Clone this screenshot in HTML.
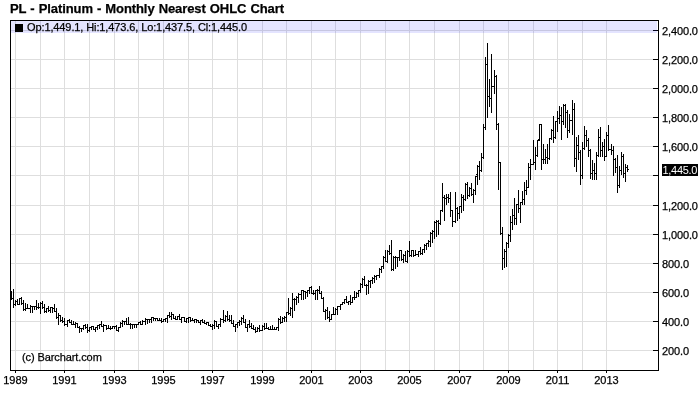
<!DOCTYPE html>
<html><head><meta charset="utf-8"><title>PL - Platinum - Monthly Nearest OHLC Chart</title>
<style>
html,body{margin:0;padding:0;background:#fff;}
body{width:700px;height:411px;position:relative;overflow:hidden;font-family:"Liberation Sans",sans-serif;color:#000;}
#title{position:absolute;left:10px;top:1px;font-size:13px;font-weight:bold;line-height:15px;white-space:nowrap;letter-spacing:-0.09px;word-spacing:0.6px;}
#frame{position:absolute;left:10px;top:20px;width:647px;height:349px;border:1px solid #000;}
#band{position:absolute;left:11px;top:21px;width:646px;height:12px;background:rgba(0,0,255,0.105);}
#sq{position:absolute;left:15px;top:24px;width:8px;height:8px;background:#000;}
#ohlc{position:absolute;left:27px;top:21px;font-size:11px;line-height:13px;white-space:nowrap;letter-spacing:-0.11px;}
#copy{position:absolute;left:22px;top:351px;font-size:11px;line-height:13px;white-space:nowrap;letter-spacing:-0.1px;}
.yl{position:absolute;left:662px;letter-spacing:-0.13px;font-size:11px;line-height:13px;white-space:nowrap;}
.xl{position:absolute;top:374px;width:41px;text-align:center;font-size:11px;line-height:13px;}
#last{position:absolute;left:662px;top:164px;width:36px;height:12px;background:#000;color:#fff;font-size:11px;line-height:12px;white-space:nowrap;letter-spacing:-0.3px;text-indent:0.5px;overflow:hidden;}
svg{position:absolute;left:0;top:0;}
#txt{position:absolute;left:0;top:0;width:700px;height:411px;will-change:transform;-webkit-text-stroke:0.25px #000;}
#last{-webkit-text-stroke:0 transparent;}
</style></head><body>
<div id="txt">
<div id="title">PL - Platinum - Monthly Nearest OHLC Chart</div>
<svg width="700" height="411" viewBox="0 0 700 411" shape-rendering="crispEdges">
<g fill="#dedede">
<rect x="15" y="21" width="1" height="349"/><rect x="40" y="21" width="1" height="349"/><rect x="64" y="21" width="1" height="349"/><rect x="89" y="21" width="1" height="349"/><rect x="114" y="21" width="1" height="349"/><rect x="138" y="21" width="1" height="349"/><rect x="163" y="21" width="1" height="349"/><rect x="188" y="21" width="1" height="349"/><rect x="212" y="21" width="1" height="349"/><rect x="237" y="21" width="1" height="349"/><rect x="262" y="21" width="1" height="349"/><rect x="286" y="21" width="1" height="349"/><rect x="311" y="21" width="1" height="349"/><rect x="335" y="21" width="1" height="349"/><rect x="360" y="21" width="1" height="349"/><rect x="385" y="21" width="1" height="349"/><rect x="409" y="21" width="1" height="349"/><rect x="434" y="21" width="1" height="349"/><rect x="459" y="21" width="1" height="349"/><rect x="483" y="21" width="1" height="349"/><rect x="508" y="21" width="1" height="349"/><rect x="533" y="21" width="1" height="349"/><rect x="557" y="21" width="1" height="349"/><rect x="582" y="21" width="1" height="349"/><rect x="606" y="21" width="1" height="349"/>
<rect x="11" y="350" width="647" height="1"/><rect x="11" y="321" width="647" height="1"/><rect x="11" y="292" width="647" height="1"/><rect x="11" y="263" width="647" height="1"/><rect x="11" y="234" width="647" height="1"/><rect x="11" y="205" width="647" height="1"/><rect x="11" y="175" width="647" height="1"/><rect x="11" y="146" width="647" height="1"/><rect x="11" y="117" width="647" height="1"/><rect x="11" y="88" width="647" height="1"/><rect x="11" y="59" width="647" height="1"/><rect x="11" y="30" width="647" height="1"/>
</g>
<g fill="#000">
<rect x="653" y="350" width="5" height="1"/><rect x="653" y="321" width="5" height="1"/><rect x="653" y="292" width="5" height="1"/><rect x="653" y="263" width="5" height="1"/><rect x="653" y="234" width="5" height="1"/><rect x="653" y="205" width="5" height="1"/><rect x="653" y="175" width="5" height="1"/><rect x="653" y="146" width="5" height="1"/><rect x="653" y="117" width="5" height="1"/><rect x="653" y="88" width="5" height="1"/><rect x="653" y="59" width="5" height="1"/><rect x="653" y="30" width="5" height="1"/>
<rect x="15" y="371" width="1" height="2"/><rect x="64" y="371" width="1" height="2"/><rect x="114" y="371" width="1" height="2"/><rect x="163" y="371" width="1" height="2"/><rect x="212" y="371" width="1" height="2"/><rect x="262" y="371" width="1" height="2"/><rect x="311" y="371" width="1" height="2"/><rect x="360" y="371" width="1" height="2"/><rect x="409" y="371" width="1" height="2"/><rect x="459" y="371" width="1" height="2"/><rect x="508" y="371" width="1" height="2"/><rect x="557" y="371" width="1" height="2"/><rect x="606" y="371" width="1" height="2"/>
</g>
<g fill="#000">
<rect x="11" y="291" width="1" height="9"/>
<rect x="12" y="298" width="1" height="1"/>
<rect x="13" y="289" width="1" height="19"/>
<rect x="12" y="298" width="1" height="1"/>
<rect x="14" y="304" width="1" height="1"/>
<rect x="15" y="300" width="1" height="6"/>
<rect x="14" y="304" width="1" height="1"/>
<rect x="16" y="301" width="1" height="1"/>
<rect x="17" y="299" width="1" height="6"/>
<rect x="16" y="301" width="1" height="1"/>
<rect x="18" y="304" width="1" height="1"/>
<rect x="19" y="298" width="1" height="7"/>
<rect x="18" y="304" width="1" height="1"/>
<rect x="20" y="298" width="1" height="1"/>
<rect x="21" y="297" width="1" height="8"/>
<rect x="20" y="298" width="1" height="1"/>
<rect x="22" y="303" width="1" height="1"/>
<rect x="23" y="300" width="1" height="11"/>
<rect x="22" y="303" width="1" height="1"/>
<rect x="24" y="309" width="1" height="1"/>
<rect x="25" y="303" width="1" height="8"/>
<rect x="24" y="309" width="1" height="1"/>
<rect x="26" y="308" width="1" height="1"/>
<rect x="27" y="304" width="1" height="5"/>
<rect x="26" y="308" width="1" height="1"/>
<rect x="28" y="308" width="1" height="1"/>
<rect x="30" y="305" width="1" height="8"/>
<rect x="29" y="308" width="1" height="1"/>
<rect x="31" y="306" width="1" height="1"/>
<rect x="32" y="306" width="1" height="7"/>
<rect x="31" y="306" width="1" height="1"/>
<rect x="33" y="306" width="1" height="1"/>
<rect x="34" y="306" width="1" height="4"/>
<rect x="33" y="306" width="1" height="1"/>
<rect x="35" y="306" width="1" height="1"/>
<rect x="36" y="300" width="1" height="10"/>
<rect x="35" y="306" width="1" height="1"/>
<rect x="37" y="307" width="1" height="1"/>
<rect x="38" y="303" width="1" height="6"/>
<rect x="37" y="307" width="1" height="1"/>
<rect x="39" y="307" width="1" height="1"/>
<rect x="40" y="302" width="1" height="12"/>
<rect x="39" y="307" width="1" height="1"/>
<rect x="41" y="303" width="1" height="1"/>
<rect x="42" y="301" width="1" height="8"/>
<rect x="41" y="303" width="1" height="1"/>
<rect x="43" y="307" width="1" height="1"/>
<rect x="44" y="304" width="1" height="9"/>
<rect x="43" y="307" width="1" height="1"/>
<rect x="45" y="311" width="1" height="1"/>
<rect x="46" y="308" width="1" height="5"/>
<rect x="45" y="311" width="1" height="1"/>
<rect x="47" y="308" width="1" height="1"/>
<rect x="48" y="306" width="1" height="6"/>
<rect x="47" y="308" width="1" height="1"/>
<rect x="49" y="310" width="1" height="1"/>
<rect x="50" y="307" width="1" height="6"/>
<rect x="49" y="310" width="1" height="1"/>
<rect x="51" y="307" width="1" height="1"/>
<rect x="52" y="307" width="1" height="6"/>
<rect x="51" y="307" width="1" height="1"/>
<rect x="53" y="308" width="1" height="1"/>
<rect x="54" y="304" width="1" height="8"/>
<rect x="53" y="308" width="1" height="1"/>
<rect x="55" y="311" width="1" height="1"/>
<rect x="56" y="308" width="1" height="11"/>
<rect x="55" y="311" width="1" height="1"/>
<rect x="57" y="317" width="1" height="1"/>
<rect x="58" y="313" width="1" height="12"/>
<rect x="57" y="317" width="1" height="1"/>
<rect x="59" y="315" width="1" height="1"/>
<rect x="60" y="315" width="1" height="7"/>
<rect x="59" y="315" width="1" height="1"/>
<rect x="61" y="320" width="1" height="1"/>
<rect x="62" y="317" width="1" height="6"/>
<rect x="61" y="320" width="1" height="1"/>
<rect x="63" y="321" width="1" height="1"/>
<rect x="64" y="318" width="1" height="8"/>
<rect x="63" y="321" width="1" height="1"/>
<rect x="65" y="324" width="1" height="1"/>
<rect x="67" y="320" width="1" height="7"/>
<rect x="66" y="324" width="1" height="1"/>
<rect x="68" y="320" width="1" height="1"/>
<rect x="69" y="319" width="1" height="4"/>
<rect x="68" y="320" width="1" height="1"/>
<rect x="70" y="322" width="1" height="1"/>
<rect x="71" y="320" width="1" height="5"/>
<rect x="70" y="322" width="1" height="1"/>
<rect x="72" y="324" width="1" height="1"/>
<rect x="73" y="321" width="1" height="4"/>
<rect x="72" y="324" width="1" height="1"/>
<rect x="74" y="324" width="1" height="1"/>
<rect x="75" y="322" width="1" height="6"/>
<rect x="74" y="324" width="1" height="1"/>
<rect x="76" y="323" width="1" height="1"/>
<rect x="77" y="323" width="1" height="5"/>
<rect x="76" y="323" width="1" height="1"/>
<rect x="78" y="327" width="1" height="1"/>
<rect x="79" y="326" width="1" height="7"/>
<rect x="78" y="327" width="1" height="1"/>
<rect x="80" y="328" width="1" height="1"/>
<rect x="81" y="328" width="1" height="4"/>
<rect x="80" y="328" width="1" height="1"/>
<rect x="82" y="328" width="1" height="1"/>
<rect x="83" y="325" width="1" height="5"/>
<rect x="82" y="328" width="1" height="1"/>
<rect x="84" y="325" width="1" height="1"/>
<rect x="85" y="324" width="1" height="5"/>
<rect x="84" y="325" width="1" height="1"/>
<rect x="86" y="327" width="1" height="1"/>
<rect x="87" y="324" width="1" height="9"/>
<rect x="86" y="327" width="1" height="1"/>
<rect x="88" y="330" width="1" height="1"/>
<rect x="89" y="327" width="1" height="5"/>
<rect x="88" y="330" width="1" height="1"/>
<rect x="90" y="327" width="1" height="1"/>
<rect x="91" y="326" width="1" height="4"/>
<rect x="90" y="327" width="1" height="1"/>
<rect x="92" y="326" width="1" height="1"/>
<rect x="93" y="326" width="1" height="4"/>
<rect x="92" y="326" width="1" height="1"/>
<rect x="94" y="329" width="1" height="1"/>
<rect x="95" y="327" width="1" height="5"/>
<rect x="94" y="329" width="1" height="1"/>
<rect x="96" y="327" width="1" height="1"/>
<rect x="97" y="325" width="1" height="5"/>
<rect x="96" y="327" width="1" height="1"/>
<rect x="98" y="325" width="1" height="1"/>
<rect x="99" y="324" width="1" height="5"/>
<rect x="98" y="325" width="1" height="1"/>
<rect x="100" y="324" width="1" height="1"/>
<rect x="101" y="321" width="1" height="6"/>
<rect x="100" y="324" width="1" height="1"/>
<rect x="102" y="326" width="1" height="1"/>
<rect x="103" y="324" width="1" height="8"/>
<rect x="102" y="326" width="1" height="1"/>
<rect x="104" y="325" width="1" height="1"/>
<rect x="106" y="325" width="1" height="5"/>
<rect x="105" y="325" width="1" height="1"/>
<rect x="107" y="328" width="1" height="1"/>
<rect x="108" y="325" width="1" height="4"/>
<rect x="107" y="328" width="1" height="1"/>
<rect x="109" y="328" width="1" height="1"/>
<rect x="110" y="326" width="1" height="4"/>
<rect x="109" y="328" width="1" height="1"/>
<rect x="111" y="328" width="1" height="1"/>
<rect x="112" y="326" width="1" height="3"/>
<rect x="111" y="328" width="1" height="1"/>
<rect x="113" y="326" width="1" height="1"/>
<rect x="114" y="326" width="1" height="3"/>
<rect x="113" y="326" width="1" height="1"/>
<rect x="115" y="326" width="1" height="1"/>
<rect x="116" y="325" width="1" height="6"/>
<rect x="115" y="326" width="1" height="1"/>
<rect x="117" y="330" width="1" height="1"/>
<rect x="118" y="327" width="1" height="5"/>
<rect x="117" y="330" width="1" height="1"/>
<rect x="119" y="327" width="1" height="1"/>
<rect x="120" y="322" width="1" height="6"/>
<rect x="119" y="327" width="1" height="1"/>
<rect x="121" y="323" width="1" height="1"/>
<rect x="122" y="320" width="1" height="7"/>
<rect x="121" y="323" width="1" height="1"/>
<rect x="123" y="321" width="1" height="1"/>
<rect x="124" y="321" width="1" height="4"/>
<rect x="123" y="321" width="1" height="1"/>
<rect x="125" y="321" width="1" height="1"/>
<rect x="126" y="318" width="1" height="7"/>
<rect x="125" y="321" width="1" height="1"/>
<rect x="127" y="324" width="1" height="1"/>
<rect x="128" y="317" width="1" height="8"/>
<rect x="127" y="324" width="1" height="1"/>
<rect x="129" y="324" width="1" height="1"/>
<rect x="130" y="323" width="1" height="6"/>
<rect x="129" y="324" width="1" height="1"/>
<rect x="131" y="324" width="1" height="1"/>
<rect x="132" y="324" width="1" height="5"/>
<rect x="131" y="324" width="1" height="1"/>
<rect x="133" y="324" width="1" height="1"/>
<rect x="134" y="324" width="1" height="4"/>
<rect x="133" y="324" width="1" height="1"/>
<rect x="135" y="324" width="1" height="1"/>
<rect x="136" y="324" width="1" height="4"/>
<rect x="135" y="324" width="1" height="1"/>
<rect x="137" y="324" width="1" height="1"/>
<rect x="138" y="322" width="1" height="3"/>
<rect x="137" y="324" width="1" height="1"/>
<rect x="139" y="322" width="1" height="1"/>
<rect x="140" y="321" width="1" height="4"/>
<rect x="139" y="322" width="1" height="1"/>
<rect x="141" y="324" width="1" height="1"/>
<rect x="142" y="320" width="1" height="5"/>
<rect x="141" y="324" width="1" height="1"/>
<rect x="143" y="321" width="1" height="1"/>
<rect x="145" y="318" width="1" height="7"/>
<rect x="144" y="321" width="1" height="1"/>
<rect x="146" y="319" width="1" height="1"/>
<rect x="147" y="319" width="1" height="5"/>
<rect x="146" y="319" width="1" height="1"/>
<rect x="148" y="319" width="1" height="1"/>
<rect x="149" y="319" width="1" height="4"/>
<rect x="148" y="319" width="1" height="1"/>
<rect x="150" y="319" width="1" height="1"/>
<rect x="151" y="317" width="1" height="6"/>
<rect x="150" y="319" width="1" height="1"/>
<rect x="152" y="317" width="1" height="1"/>
<rect x="153" y="317" width="1" height="4"/>
<rect x="152" y="317" width="1" height="1"/>
<rect x="154" y="318" width="1" height="1"/>
<rect x="155" y="318" width="1" height="3"/>
<rect x="154" y="318" width="1" height="1"/>
<rect x="156" y="318" width="1" height="1"/>
<rect x="157" y="318" width="1" height="3"/>
<rect x="156" y="318" width="1" height="1"/>
<rect x="158" y="320" width="1" height="1"/>
<rect x="159" y="318" width="1" height="3"/>
<rect x="158" y="320" width="1" height="1"/>
<rect x="160" y="320" width="1" height="1"/>
<rect x="161" y="318" width="1" height="5"/>
<rect x="160" y="320" width="1" height="1"/>
<rect x="162" y="321" width="1" height="1"/>
<rect x="163" y="319" width="1" height="3"/>
<rect x="162" y="321" width="1" height="1"/>
<rect x="164" y="319" width="1" height="1"/>
<rect x="165" y="318" width="1" height="4"/>
<rect x="164" y="319" width="1" height="1"/>
<rect x="166" y="318" width="1" height="1"/>
<rect x="167" y="315" width="1" height="8"/>
<rect x="166" y="318" width="1" height="1"/>
<rect x="168" y="315" width="1" height="1"/>
<rect x="169" y="312" width="1" height="6"/>
<rect x="168" y="315" width="1" height="1"/>
<rect x="170" y="316" width="1" height="1"/>
<rect x="171" y="312" width="1" height="8"/>
<rect x="170" y="316" width="1" height="1"/>
<rect x="172" y="314" width="1" height="1"/>
<rect x="173" y="314" width="1" height="5"/>
<rect x="172" y="314" width="1" height="1"/>
<rect x="174" y="318" width="1" height="1"/>
<rect x="175" y="316" width="1" height="4"/>
<rect x="174" y="318" width="1" height="1"/>
<rect x="176" y="319" width="1" height="1"/>
<rect x="177" y="316" width="1" height="4"/>
<rect x="176" y="319" width="1" height="1"/>
<rect x="178" y="316" width="1" height="1"/>
<rect x="179" y="314" width="1" height="6"/>
<rect x="178" y="316" width="1" height="1"/>
<rect x="180" y="319" width="1" height="1"/>
<rect x="181" y="317" width="1" height="6"/>
<rect x="180" y="319" width="1" height="1"/>
<rect x="182" y="317" width="1" height="1"/>
<rect x="184" y="317" width="1" height="5"/>
<rect x="183" y="317" width="1" height="1"/>
<rect x="185" y="321" width="1" height="1"/>
<rect x="186" y="318" width="1" height="5"/>
<rect x="185" y="321" width="1" height="1"/>
<rect x="187" y="318" width="1" height="1"/>
<rect x="188" y="317" width="1" height="6"/>
<rect x="187" y="318" width="1" height="1"/>
<rect x="189" y="317" width="1" height="1"/>
<rect x="190" y="317" width="1" height="5"/>
<rect x="189" y="317" width="1" height="1"/>
<rect x="191" y="320" width="1" height="1"/>
<rect x="192" y="318" width="1" height="3"/>
<rect x="191" y="320" width="1" height="1"/>
<rect x="193" y="320" width="1" height="1"/>
<rect x="194" y="319" width="1" height="4"/>
<rect x="193" y="320" width="1" height="1"/>
<rect x="195" y="319" width="1" height="1"/>
<rect x="196" y="319" width="1" height="4"/>
<rect x="195" y="319" width="1" height="1"/>
<rect x="197" y="320" width="1" height="1"/>
<rect x="198" y="320" width="1" height="3"/>
<rect x="197" y="320" width="1" height="1"/>
<rect x="199" y="322" width="1" height="1"/>
<rect x="200" y="320" width="1" height="5"/>
<rect x="199" y="322" width="1" height="1"/>
<rect x="201" y="320" width="1" height="1"/>
<rect x="202" y="319" width="1" height="4"/>
<rect x="201" y="320" width="1" height="1"/>
<rect x="203" y="322" width="1" height="1"/>
<rect x="204" y="320" width="1" height="4"/>
<rect x="203" y="322" width="1" height="1"/>
<rect x="205" y="323" width="1" height="1"/>
<rect x="206" y="322" width="1" height="3"/>
<rect x="205" y="323" width="1" height="1"/>
<rect x="207" y="322" width="1" height="1"/>
<rect x="208" y="322" width="1" height="4"/>
<rect x="207" y="322" width="1" height="1"/>
<rect x="209" y="325" width="1" height="1"/>
<rect x="210" y="324" width="1" height="3"/>
<rect x="209" y="325" width="1" height="1"/>
<rect x="211" y="326" width="1" height="1"/>
<rect x="212" y="324" width="1" height="6"/>
<rect x="211" y="326" width="1" height="1"/>
<rect x="213" y="325" width="1" height="1"/>
<rect x="214" y="320" width="1" height="9"/>
<rect x="213" y="325" width="1" height="1"/>
<rect x="215" y="321" width="1" height="1"/>
<rect x="216" y="321" width="1" height="6"/>
<rect x="215" y="321" width="1" height="1"/>
<rect x="217" y="326" width="1" height="1"/>
<rect x="218" y="324" width="1" height="5"/>
<rect x="217" y="326" width="1" height="1"/>
<rect x="219" y="324" width="1" height="1"/>
<rect x="220" y="318" width="1" height="9"/>
<rect x="219" y="324" width="1" height="1"/>
<rect x="221" y="319" width="1" height="1"/>
<rect x="223" y="310" width="1" height="13"/>
<rect x="222" y="319" width="1" height="1"/>
<rect x="224" y="320" width="1" height="1"/>
<rect x="225" y="315" width="1" height="7"/>
<rect x="224" y="320" width="1" height="1"/>
<rect x="226" y="316" width="1" height="1"/>
<rect x="227" y="311" width="1" height="10"/>
<rect x="226" y="316" width="1" height="1"/>
<rect x="228" y="319" width="1" height="1"/>
<rect x="229" y="315" width="1" height="7"/>
<rect x="228" y="319" width="1" height="1"/>
<rect x="230" y="320" width="1" height="1"/>
<rect x="231" y="315" width="1" height="9"/>
<rect x="230" y="320" width="1" height="1"/>
<rect x="232" y="323" width="1" height="1"/>
<rect x="233" y="320" width="1" height="7"/>
<rect x="232" y="323" width="1" height="1"/>
<rect x="234" y="326" width="1" height="1"/>
<rect x="235" y="324" width="1" height="8"/>
<rect x="234" y="326" width="1" height="1"/>
<rect x="236" y="324" width="1" height="1"/>
<rect x="237" y="322" width="1" height="6"/>
<rect x="236" y="324" width="1" height="1"/>
<rect x="238" y="322" width="1" height="1"/>
<rect x="239" y="320" width="1" height="6"/>
<rect x="238" y="322" width="1" height="1"/>
<rect x="240" y="321" width="1" height="1"/>
<rect x="241" y="317" width="1" height="8"/>
<rect x="240" y="321" width="1" height="1"/>
<rect x="242" y="318" width="1" height="1"/>
<rect x="243" y="315" width="1" height="8"/>
<rect x="242" y="318" width="1" height="1"/>
<rect x="244" y="322" width="1" height="1"/>
<rect x="245" y="319" width="1" height="9"/>
<rect x="244" y="322" width="1" height="1"/>
<rect x="246" y="327" width="1" height="1"/>
<rect x="247" y="324" width="1" height="8"/>
<rect x="246" y="327" width="1" height="1"/>
<rect x="248" y="324" width="1" height="1"/>
<rect x="249" y="320" width="1" height="8"/>
<rect x="248" y="324" width="1" height="1"/>
<rect x="250" y="326" width="1" height="1"/>
<rect x="251" y="323" width="1" height="6"/>
<rect x="250" y="326" width="1" height="1"/>
<rect x="252" y="328" width="1" height="1"/>
<rect x="253" y="325" width="1" height="5"/>
<rect x="252" y="328" width="1" height="1"/>
<rect x="254" y="329" width="1" height="1"/>
<rect x="255" y="327" width="1" height="6"/>
<rect x="254" y="329" width="1" height="1"/>
<rect x="256" y="331" width="1" height="1"/>
<rect x="257" y="327" width="1" height="5"/>
<rect x="256" y="331" width="1" height="1"/>
<rect x="258" y="328" width="1" height="1"/>
<rect x="259" y="325" width="1" height="7"/>
<rect x="258" y="328" width="1" height="1"/>
<rect x="260" y="330" width="1" height="1"/>
<rect x="262" y="325" width="1" height="6"/>
<rect x="261" y="330" width="1" height="1"/>
<rect x="263" y="326" width="1" height="1"/>
<rect x="264" y="323" width="1" height="7"/>
<rect x="263" y="326" width="1" height="1"/>
<rect x="265" y="328" width="1" height="1"/>
<rect x="266" y="323" width="1" height="6"/>
<rect x="265" y="328" width="1" height="1"/>
<rect x="267" y="328" width="1" height="1"/>
<rect x="268" y="327" width="1" height="3"/>
<rect x="267" y="328" width="1" height="1"/>
<rect x="269" y="329" width="1" height="1"/>
<rect x="270" y="326" width="1" height="4"/>
<rect x="269" y="329" width="1" height="1"/>
<rect x="271" y="329" width="1" height="1"/>
<rect x="272" y="325" width="1" height="5"/>
<rect x="271" y="329" width="1" height="1"/>
<rect x="273" y="329" width="1" height="1"/>
<rect x="274" y="327" width="1" height="3"/>
<rect x="273" y="329" width="1" height="1"/>
<rect x="275" y="329" width="1" height="1"/>
<rect x="276" y="327" width="1" height="3"/>
<rect x="275" y="329" width="1" height="1"/>
<rect x="277" y="327" width="1" height="1"/>
<rect x="278" y="318" width="1" height="13"/>
<rect x="277" y="327" width="1" height="1"/>
<rect x="279" y="319" width="1" height="1"/>
<rect x="280" y="316" width="1" height="8"/>
<rect x="279" y="319" width="1" height="1"/>
<rect x="281" y="322" width="1" height="1"/>
<rect x="282" y="317" width="1" height="6"/>
<rect x="281" y="322" width="1" height="1"/>
<rect x="283" y="318" width="1" height="1"/>
<rect x="284" y="316" width="1" height="6"/>
<rect x="283" y="318" width="1" height="1"/>
<rect x="285" y="317" width="1" height="1"/>
<rect x="286" y="312" width="1" height="10"/>
<rect x="285" y="317" width="1" height="1"/>
<rect x="287" y="312" width="1" height="1"/>
<rect x="288" y="298" width="1" height="17"/>
<rect x="287" y="312" width="1" height="1"/>
<rect x="289" y="313" width="1" height="1"/>
<rect x="290" y="307" width="1" height="9"/>
<rect x="289" y="313" width="1" height="1"/>
<rect x="291" y="308" width="1" height="1"/>
<rect x="292" y="293" width="1" height="25"/>
<rect x="291" y="308" width="1" height="1"/>
<rect x="293" y="299" width="1" height="1"/>
<rect x="294" y="298" width="1" height="13"/>
<rect x="293" y="299" width="1" height="1"/>
<rect x="295" y="299" width="1" height="1"/>
<rect x="296" y="296" width="1" height="9"/>
<rect x="295" y="299" width="1" height="1"/>
<rect x="297" y="297" width="1" height="1"/>
<rect x="298" y="293" width="1" height="10"/>
<rect x="297" y="297" width="1" height="1"/>
<rect x="299" y="294" width="1" height="1"/>
<rect x="301" y="290" width="1" height="10"/>
<rect x="300" y="294" width="1" height="1"/>
<rect x="302" y="290" width="1" height="1"/>
<rect x="303" y="290" width="1" height="10"/>
<rect x="302" y="290" width="1" height="1"/>
<rect x="304" y="291" width="1" height="1"/>
<rect x="305" y="291" width="1" height="8"/>
<rect x="304" y="291" width="1" height="1"/>
<rect x="306" y="292" width="1" height="1"/>
<rect x="307" y="290" width="1" height="7"/>
<rect x="306" y="292" width="1" height="1"/>
<rect x="308" y="290" width="1" height="1"/>
<rect x="309" y="287" width="1" height="7"/>
<rect x="308" y="290" width="1" height="1"/>
<rect x="310" y="287" width="1" height="1"/>
<rect x="311" y="286" width="1" height="8"/>
<rect x="310" y="287" width="1" height="1"/>
<rect x="312" y="293" width="1" height="1"/>
<rect x="313" y="290" width="1" height="5"/>
<rect x="312" y="293" width="1" height="1"/>
<rect x="314" y="293" width="1" height="1"/>
<rect x="315" y="290" width="1" height="10"/>
<rect x="314" y="293" width="1" height="1"/>
<rect x="316" y="290" width="1" height="1"/>
<rect x="317" y="289" width="1" height="11"/>
<rect x="316" y="290" width="1" height="1"/>
<rect x="318" y="290" width="1" height="1"/>
<rect x="319" y="286" width="1" height="8"/>
<rect x="318" y="290" width="1" height="1"/>
<rect x="320" y="293" width="1" height="1"/>
<rect x="321" y="291" width="1" height="8"/>
<rect x="320" y="293" width="1" height="1"/>
<rect x="322" y="298" width="1" height="1"/>
<rect x="323" y="297" width="1" height="15"/>
<rect x="322" y="298" width="1" height="1"/>
<rect x="324" y="311" width="1" height="1"/>
<rect x="325" y="309" width="1" height="11"/>
<rect x="324" y="311" width="1" height="1"/>
<rect x="326" y="310" width="1" height="1"/>
<rect x="327" y="307" width="1" height="12"/>
<rect x="326" y="310" width="1" height="1"/>
<rect x="328" y="317" width="1" height="1"/>
<rect x="329" y="311" width="1" height="11"/>
<rect x="328" y="317" width="1" height="1"/>
<rect x="330" y="319" width="1" height="1"/>
<rect x="331" y="314" width="1" height="6"/>
<rect x="330" y="319" width="1" height="1"/>
<rect x="332" y="314" width="1" height="1"/>
<rect x="333" y="307" width="1" height="8"/>
<rect x="332" y="314" width="1" height="1"/>
<rect x="334" y="314" width="1" height="1"/>
<rect x="335" y="308" width="1" height="7"/>
<rect x="334" y="314" width="1" height="1"/>
<rect x="336" y="309" width="1" height="1"/>
<rect x="337" y="306" width="1" height="9"/>
<rect x="336" y="309" width="1" height="1"/>
<rect x="338" y="306" width="1" height="1"/>
<rect x="340" y="304" width="1" height="6"/>
<rect x="339" y="306" width="1" height="1"/>
<rect x="341" y="304" width="1" height="1"/>
<rect x="342" y="302" width="1" height="3"/>
<rect x="341" y="304" width="1" height="1"/>
<rect x="343" y="302" width="1" height="1"/>
<rect x="344" y="299" width="1" height="5"/>
<rect x="343" y="302" width="1" height="1"/>
<rect x="345" y="299" width="1" height="1"/>
<rect x="346" y="296" width="1" height="7"/>
<rect x="345" y="299" width="1" height="1"/>
<rect x="347" y="302" width="1" height="1"/>
<rect x="348" y="301" width="1" height="4"/>
<rect x="347" y="302" width="1" height="1"/>
<rect x="349" y="301" width="1" height="1"/>
<rect x="350" y="295" width="1" height="10"/>
<rect x="349" y="301" width="1" height="1"/>
<rect x="351" y="302" width="1" height="1"/>
<rect x="352" y="297" width="1" height="6"/>
<rect x="351" y="302" width="1" height="1"/>
<rect x="353" y="297" width="1" height="1"/>
<rect x="354" y="291" width="1" height="9"/>
<rect x="353" y="297" width="1" height="1"/>
<rect x="355" y="297" width="1" height="1"/>
<rect x="356" y="292" width="1" height="6"/>
<rect x="355" y="297" width="1" height="1"/>
<rect x="357" y="293" width="1" height="1"/>
<rect x="358" y="290" width="1" height="7"/>
<rect x="357" y="293" width="1" height="1"/>
<rect x="359" y="290" width="1" height="1"/>
<rect x="360" y="283" width="1" height="10"/>
<rect x="359" y="290" width="1" height="1"/>
<rect x="361" y="284" width="1" height="1"/>
<rect x="362" y="278" width="1" height="10"/>
<rect x="361" y="284" width="1" height="1"/>
<rect x="363" y="279" width="1" height="1"/>
<rect x="364" y="276" width="1" height="10"/>
<rect x="363" y="279" width="1" height="1"/>
<rect x="365" y="285" width="1" height="1"/>
<rect x="366" y="284" width="1" height="11"/>
<rect x="365" y="285" width="1" height="1"/>
<rect x="367" y="285" width="1" height="1"/>
<rect x="368" y="280" width="1" height="14"/>
<rect x="367" y="285" width="1" height="1"/>
<rect x="369" y="281" width="1" height="1"/>
<rect x="370" y="280" width="1" height="8"/>
<rect x="369" y="281" width="1" height="1"/>
<rect x="371" y="280" width="1" height="1"/>
<rect x="372" y="277" width="1" height="7"/>
<rect x="371" y="280" width="1" height="1"/>
<rect x="373" y="278" width="1" height="1"/>
<rect x="374" y="275" width="1" height="8"/>
<rect x="373" y="278" width="1" height="1"/>
<rect x="375" y="276" width="1" height="1"/>
<rect x="376" y="275" width="1" height="5"/>
<rect x="375" y="276" width="1" height="1"/>
<rect x="377" y="275" width="1" height="1"/>
<rect x="379" y="268" width="1" height="10"/>
<rect x="378" y="275" width="1" height="1"/>
<rect x="380" y="269" width="1" height="1"/>
<rect x="381" y="266" width="1" height="7"/>
<rect x="380" y="269" width="1" height="1"/>
<rect x="382" y="266" width="1" height="1"/>
<rect x="383" y="256" width="1" height="13"/>
<rect x="382" y="266" width="1" height="1"/>
<rect x="384" y="257" width="1" height="1"/>
<rect x="385" y="250" width="1" height="12"/>
<rect x="384" y="257" width="1" height="1"/>
<rect x="386" y="261" width="1" height="1"/>
<rect x="387" y="250" width="1" height="13"/>
<rect x="386" y="261" width="1" height="1"/>
<rect x="388" y="251" width="1" height="1"/>
<rect x="389" y="245" width="1" height="10"/>
<rect x="388" y="251" width="1" height="1"/>
<rect x="390" y="253" width="1" height="1"/>
<rect x="391" y="240" width="1" height="31"/>
<rect x="390" y="253" width="1" height="1"/>
<rect x="392" y="269" width="1" height="1"/>
<rect x="393" y="256" width="1" height="15"/>
<rect x="392" y="269" width="1" height="1"/>
<rect x="394" y="257" width="1" height="1"/>
<rect x="395" y="256" width="1" height="13"/>
<rect x="394" y="257" width="1" height="1"/>
<rect x="396" y="257" width="1" height="1"/>
<rect x="397" y="257" width="1" height="10"/>
<rect x="396" y="257" width="1" height="1"/>
<rect x="398" y="257" width="1" height="1"/>
<rect x="399" y="250" width="1" height="11"/>
<rect x="398" y="257" width="1" height="1"/>
<rect x="400" y="250" width="1" height="1"/>
<rect x="401" y="250" width="1" height="11"/>
<rect x="400" y="250" width="1" height="1"/>
<rect x="402" y="259" width="1" height="1"/>
<rect x="403" y="254" width="1" height="9"/>
<rect x="402" y="259" width="1" height="1"/>
<rect x="404" y="255" width="1" height="1"/>
<rect x="405" y="251" width="1" height="11"/>
<rect x="404" y="255" width="1" height="1"/>
<rect x="406" y="261" width="1" height="1"/>
<rect x="407" y="250" width="1" height="13"/>
<rect x="406" y="261" width="1" height="1"/>
<rect x="408" y="251" width="1" height="1"/>
<rect x="409" y="241" width="1" height="16"/>
<rect x="408" y="251" width="1" height="1"/>
<rect x="410" y="255" width="1" height="1"/>
<rect x="411" y="250" width="1" height="7"/>
<rect x="410" y="255" width="1" height="1"/>
<rect x="412" y="250" width="1" height="1"/>
<rect x="413" y="250" width="1" height="7"/>
<rect x="412" y="250" width="1" height="1"/>
<rect x="414" y="255" width="1" height="1"/>
<rect x="415" y="250" width="1" height="6"/>
<rect x="414" y="255" width="1" height="1"/>
<rect x="416" y="254" width="1" height="1"/>
<rect x="418" y="251" width="1" height="6"/>
<rect x="417" y="254" width="1" height="1"/>
<rect x="419" y="251" width="1" height="1"/>
<rect x="420" y="247" width="1" height="8"/>
<rect x="419" y="251" width="1" height="1"/>
<rect x="421" y="253" width="1" height="1"/>
<rect x="422" y="249" width="1" height="6"/>
<rect x="421" y="253" width="1" height="1"/>
<rect x="423" y="249" width="1" height="1"/>
<rect x="424" y="244" width="1" height="9"/>
<rect x="423" y="249" width="1" height="1"/>
<rect x="425" y="245" width="1" height="1"/>
<rect x="426" y="243" width="1" height="7"/>
<rect x="425" y="245" width="1" height="1"/>
<rect x="427" y="243" width="1" height="1"/>
<rect x="428" y="240" width="1" height="7"/>
<rect x="427" y="243" width="1" height="1"/>
<rect x="429" y="241" width="1" height="1"/>
<rect x="430" y="232" width="1" height="15"/>
<rect x="429" y="241" width="1" height="1"/>
<rect x="431" y="233" width="1" height="1"/>
<rect x="432" y="230" width="1" height="13"/>
<rect x="431" y="233" width="1" height="1"/>
<rect x="433" y="231" width="1" height="1"/>
<rect x="434" y="221" width="1" height="18"/>
<rect x="433" y="231" width="1" height="1"/>
<rect x="435" y="222" width="1" height="1"/>
<rect x="436" y="220" width="1" height="17"/>
<rect x="435" y="222" width="1" height="1"/>
<rect x="437" y="221" width="1" height="1"/>
<rect x="438" y="220" width="1" height="15"/>
<rect x="437" y="221" width="1" height="1"/>
<rect x="439" y="223" width="1" height="1"/>
<rect x="440" y="210" width="1" height="15"/>
<rect x="439" y="223" width="1" height="1"/>
<rect x="441" y="210" width="1" height="1"/>
<rect x="442" y="183" width="1" height="29"/>
<rect x="441" y="210" width="1" height="1"/>
<rect x="443" y="197" width="1" height="1"/>
<rect x="444" y="195" width="1" height="26"/>
<rect x="443" y="197" width="1" height="1"/>
<rect x="445" y="198" width="1" height="1"/>
<rect x="446" y="194" width="1" height="11"/>
<rect x="445" y="198" width="1" height="1"/>
<rect x="447" y="197" width="1" height="1"/>
<rect x="448" y="194" width="1" height="9"/>
<rect x="447" y="197" width="1" height="1"/>
<rect x="449" y="198" width="1" height="1"/>
<rect x="450" y="192" width="1" height="25"/>
<rect x="449" y="198" width="1" height="1"/>
<rect x="451" y="210" width="1" height="1"/>
<rect x="452" y="210" width="1" height="17"/>
<rect x="451" y="210" width="1" height="1"/>
<rect x="453" y="221" width="1" height="1"/>
<rect x="455" y="192" width="1" height="31"/>
<rect x="454" y="221" width="1" height="1"/>
<rect x="456" y="208" width="1" height="1"/>
<rect x="457" y="207" width="1" height="14"/>
<rect x="456" y="208" width="1" height="1"/>
<rect x="458" y="213" width="1" height="1"/>
<rect x="459" y="206" width="1" height="13"/>
<rect x="458" y="213" width="1" height="1"/>
<rect x="460" y="206" width="1" height="1"/>
<rect x="461" y="194" width="1" height="19"/>
<rect x="460" y="206" width="1" height="1"/>
<rect x="462" y="197" width="1" height="1"/>
<rect x="463" y="195" width="1" height="16"/>
<rect x="462" y="197" width="1" height="1"/>
<rect x="464" y="199" width="1" height="1"/>
<rect x="465" y="183" width="1" height="18"/>
<rect x="464" y="199" width="1" height="1"/>
<rect x="466" y="184" width="1" height="1"/>
<rect x="467" y="182" width="1" height="17"/>
<rect x="466" y="184" width="1" height="1"/>
<rect x="468" y="195" width="1" height="1"/>
<rect x="469" y="187" width="1" height="10"/>
<rect x="468" y="195" width="1" height="1"/>
<rect x="470" y="188" width="1" height="1"/>
<rect x="471" y="183" width="1" height="13"/>
<rect x="470" y="188" width="1" height="1"/>
<rect x="472" y="194" width="1" height="1"/>
<rect x="473" y="189" width="1" height="14"/>
<rect x="472" y="194" width="1" height="1"/>
<rect x="474" y="190" width="1" height="1"/>
<rect x="475" y="176" width="1" height="19"/>
<rect x="474" y="190" width="1" height="1"/>
<rect x="476" y="176" width="1" height="1"/>
<rect x="477" y="165" width="1" height="20"/>
<rect x="476" y="174" width="1" height="1"/>
<rect x="478" y="166" width="1" height="1"/>
<rect x="479" y="161" width="1" height="19"/>
<rect x="478" y="166" width="1" height="1"/>
<rect x="480" y="170" width="1" height="1"/>
<rect x="481" y="153" width="1" height="19"/>
<rect x="480" y="170" width="1" height="1"/>
<rect x="482" y="157" width="1" height="1"/>
<rect x="483" y="124" width="1" height="35"/>
<rect x="482" y="157" width="1" height="1"/>
<rect x="484" y="127" width="1" height="1"/>
<rect x="485" y="57" width="1" height="73"/>
<rect x="484" y="127" width="1" height="1"/>
<rect x="486" y="64" width="1" height="1"/>
<rect x="487" y="43" width="1" height="75"/>
<rect x="486" y="64" width="1" height="1"/>
<rect x="488" y="96" width="1" height="1"/>
<rect x="489" y="79" width="1" height="28"/>
<rect x="488" y="96" width="1" height="1"/>
<rect x="490" y="98" width="1" height="1"/>
<rect x="491" y="54" width="1" height="59"/>
<rect x="490" y="98" width="1" height="1"/>
<rect x="492" y="86" width="1" height="1"/>
<rect x="494" y="70" width="1" height="24"/>
<rect x="493" y="86" width="1" height="1"/>
<rect x="495" y="76" width="1" height="1"/>
<rect x="496" y="75" width="1" height="55"/>
<rect x="495" y="76" width="1" height="1"/>
<rect x="497" y="124" width="1" height="1"/>
<rect x="498" y="123" width="1" height="67"/>
<rect x="497" y="124" width="1" height="1"/>
<rect x="499" y="162" width="1" height="1"/>
<rect x="500" y="162" width="1" height="73"/>
<rect x="499" y="162" width="1" height="1"/>
<rect x="501" y="233" width="1" height="1"/>
<rect x="502" y="227" width="1" height="43"/>
<rect x="501" y="233" width="1" height="1"/>
<rect x="503" y="258" width="1" height="1"/>
<rect x="504" y="249" width="1" height="19"/>
<rect x="503" y="258" width="1" height="1"/>
<rect x="505" y="251" width="1" height="1"/>
<rect x="506" y="242" width="1" height="25"/>
<rect x="505" y="251" width="1" height="1"/>
<rect x="507" y="243" width="1" height="1"/>
<rect x="508" y="234" width="1" height="14"/>
<rect x="507" y="243" width="1" height="1"/>
<rect x="509" y="235" width="1" height="1"/>
<rect x="510" y="216" width="1" height="26"/>
<rect x="509" y="235" width="1" height="1"/>
<rect x="511" y="222" width="1" height="1"/>
<rect x="512" y="209" width="1" height="21"/>
<rect x="511" y="222" width="1" height="1"/>
<rect x="513" y="215" width="1" height="1"/>
<rect x="514" y="198" width="1" height="27"/>
<rect x="513" y="215" width="1" height="1"/>
<rect x="515" y="218" width="1" height="1"/>
<rect x="516" y="204" width="1" height="21"/>
<rect x="515" y="218" width="1" height="1"/>
<rect x="517" y="204" width="1" height="1"/>
<rect x="518" y="190" width="1" height="23"/>
<rect x="517" y="204" width="1" height="1"/>
<rect x="519" y="208" width="1" height="1"/>
<rect x="520" y="202" width="1" height="21"/>
<rect x="519" y="208" width="1" height="1"/>
<rect x="521" y="202" width="1" height="1"/>
<rect x="522" y="191" width="1" height="14"/>
<rect x="521" y="202" width="1" height="1"/>
<rect x="523" y="199" width="1" height="1"/>
<rect x="524" y="182" width="1" height="23"/>
<rect x="523" y="199" width="1" height="1"/>
<rect x="525" y="190" width="1" height="1"/>
<rect x="526" y="180" width="1" height="15"/>
<rect x="525" y="190" width="1" height="1"/>
<rect x="527" y="187" width="1" height="1"/>
<rect x="528" y="163" width="1" height="25"/>
<rect x="527" y="187" width="1" height="1"/>
<rect x="529" y="167" width="1" height="1"/>
<rect x="530" y="159" width="1" height="21"/>
<rect x="529" y="167" width="1" height="1"/>
<rect x="531" y="164" width="1" height="1"/>
<rect x="533" y="140" width="1" height="25"/>
<rect x="532" y="164" width="1" height="1"/>
<rect x="534" y="162" width="1" height="1"/>
<rect x="535" y="147" width="1" height="23"/>
<rect x="534" y="162" width="1" height="1"/>
<rect x="536" y="155" width="1" height="1"/>
<rect x="537" y="140" width="1" height="17"/>
<rect x="536" y="155" width="1" height="1"/>
<rect x="538" y="140" width="1" height="1"/>
<rect x="539" y="124" width="1" height="17"/>
<rect x="538" y="139" width="1" height="1"/>
<rect x="540" y="124" width="1" height="1"/>
<rect x="541" y="124" width="1" height="46"/>
<rect x="540" y="124" width="1" height="1"/>
<rect x="542" y="159" width="1" height="1"/>
<rect x="543" y="144" width="1" height="20"/>
<rect x="542" y="159" width="1" height="1"/>
<rect x="544" y="159" width="1" height="1"/>
<rect x="545" y="149" width="1" height="15"/>
<rect x="544" y="159" width="1" height="1"/>
<rect x="546" y="157" width="1" height="1"/>
<rect x="547" y="144" width="1" height="20"/>
<rect x="546" y="157" width="1" height="1"/>
<rect x="548" y="158" width="1" height="1"/>
<rect x="549" y="138" width="1" height="22"/>
<rect x="548" y="158" width="1" height="1"/>
<rect x="550" y="138" width="1" height="1"/>
<rect x="551" y="129" width="1" height="11"/>
<rect x="550" y="138" width="1" height="1"/>
<rect x="552" y="130" width="1" height="1"/>
<rect x="553" y="116" width="1" height="27"/>
<rect x="552" y="130" width="1" height="1"/>
<rect x="554" y="137" width="1" height="1"/>
<rect x="555" y="121" width="1" height="18"/>
<rect x="554" y="137" width="1" height="1"/>
<rect x="556" y="121" width="1" height="1"/>
<rect x="557" y="111" width="1" height="21"/>
<rect x="556" y="121" width="1" height="1"/>
<rect x="558" y="118" width="1" height="1"/>
<rect x="559" y="106" width="1" height="18"/>
<rect x="558" y="118" width="1" height="1"/>
<rect x="560" y="115" width="1" height="1"/>
<rect x="561" y="107" width="1" height="33"/>
<rect x="560" y="115" width="1" height="1"/>
<rect x="562" y="121" width="1" height="1"/>
<rect x="563" y="104" width="1" height="21"/>
<rect x="562" y="121" width="1" height="1"/>
<rect x="564" y="105" width="1" height="1"/>
<rect x="565" y="104" width="1" height="24"/>
<rect x="564" y="105" width="1" height="1"/>
<rect x="566" y="112" width="1" height="1"/>
<rect x="567" y="110" width="1" height="28"/>
<rect x="566" y="112" width="1" height="1"/>
<rect x="568" y="130" width="1" height="1"/>
<rect x="569" y="114" width="1" height="19"/>
<rect x="568" y="130" width="1" height="1"/>
<rect x="570" y="120" width="1" height="1"/>
<rect x="572" y="100" width="1" height="35"/>
<rect x="571" y="120" width="1" height="1"/>
<rect x="573" y="109" width="1" height="1"/>
<rect x="574" y="103" width="1" height="64"/>
<rect x="573" y="109" width="1" height="1"/>
<rect x="575" y="158" width="1" height="1"/>
<rect x="576" y="137" width="1" height="35"/>
<rect x="575" y="158" width="1" height="1"/>
<rect x="577" y="145" width="1" height="1"/>
<rect x="578" y="135" width="1" height="25"/>
<rect x="577" y="145" width="1" height="1"/>
<rect x="579" y="152" width="1" height="1"/>
<rect x="580" y="150" width="1" height="35"/>
<rect x="579" y="152" width="1" height="1"/>
<rect x="581" y="175" width="1" height="1"/>
<rect x="582" y="142" width="1" height="37"/>
<rect x="581" y="175" width="1" height="1"/>
<rect x="583" y="148" width="1" height="1"/>
<rect x="584" y="126" width="1" height="24"/>
<rect x="583" y="148" width="1" height="1"/>
<rect x="585" y="135" width="1" height="1"/>
<rect x="586" y="130" width="1" height="17"/>
<rect x="585" y="135" width="1" height="1"/>
<rect x="587" y="140" width="1" height="1"/>
<rect x="588" y="138" width="1" height="19"/>
<rect x="587" y="140" width="1" height="1"/>
<rect x="589" y="150" width="1" height="1"/>
<rect x="590" y="149" width="1" height="30"/>
<rect x="589" y="150" width="1" height="1"/>
<rect x="591" y="173" width="1" height="1"/>
<rect x="592" y="160" width="1" height="20"/>
<rect x="591" y="173" width="1" height="1"/>
<rect x="593" y="170" width="1" height="1"/>
<rect x="594" y="163" width="1" height="17"/>
<rect x="593" y="170" width="1" height="1"/>
<rect x="595" y="173" width="1" height="1"/>
<rect x="596" y="152" width="1" height="28"/>
<rect x="595" y="173" width="1" height="1"/>
<rect x="597" y="155" width="1" height="1"/>
<rect x="598" y="129" width="1" height="28"/>
<rect x="597" y="155" width="1" height="1"/>
<rect x="599" y="137" width="1" height="1"/>
<rect x="600" y="127" width="1" height="30"/>
<rect x="599" y="137" width="1" height="1"/>
<rect x="601" y="150" width="1" height="1"/>
<rect x="602" y="142" width="1" height="15"/>
<rect x="601" y="150" width="1" height="1"/>
<rect x="603" y="146" width="1" height="1"/>
<rect x="604" y="139" width="1" height="22"/>
<rect x="603" y="146" width="1" height="1"/>
<rect x="605" y="156" width="1" height="1"/>
<rect x="606" y="132" width="1" height="25"/>
<rect x="605" y="156" width="1" height="1"/>
<rect x="607" y="135" width="1" height="1"/>
<rect x="608" y="125" width="1" height="26"/>
<rect x="607" y="135" width="1" height="1"/>
<rect x="609" y="149" width="1" height="1"/>
<rect x="611" y="144" width="1" height="11"/>
<rect x="610" y="149" width="1" height="1"/>
<rect x="612" y="150" width="1" height="1"/>
<rect x="613" y="146" width="1" height="30"/>
<rect x="612" y="150" width="1" height="1"/>
<rect x="614" y="159" width="1" height="1"/>
<rect x="615" y="158" width="1" height="15"/>
<rect x="614" y="159" width="1" height="1"/>
<rect x="616" y="167" width="1" height="1"/>
<rect x="617" y="155" width="1" height="38"/>
<rect x="616" y="167" width="1" height="1"/>
<rect x="618" y="185" width="1" height="1"/>
<rect x="619" y="166" width="1" height="22"/>
<rect x="618" y="185" width="1" height="1"/>
<rect x="620" y="170" width="1" height="1"/>
<rect x="621" y="152" width="1" height="23"/>
<rect x="620" y="170" width="1" height="1"/>
<rect x="622" y="156" width="1" height="1"/>
<rect x="623" y="154" width="1" height="24"/>
<rect x="622" y="156" width="1" height="1"/>
<rect x="624" y="173" width="1" height="1"/>
<rect x="625" y="164" width="1" height="18"/>
<rect x="624" y="173" width="1" height="1"/>
<rect x="626" y="167" width="1" height="1"/>
<rect x="627" y="165" width="1" height="7"/>
<rect x="626" y="167" width="1" height="1"/>
<rect x="628" y="169" width="1" height="1"/>
</g>
</svg>
<div id="band"></div>
<div id="frame"></div>
<div id="sq"></div>
<div id="ohlc">Op:1,449.1, Hi:1,473.6, Lo:1,437.5, Cl:1,445.0</div>
<div id="copy">(c) Barchart.com</div>
<div class="yl" style="top:345px">200.0</div><div class="yl" style="top:316px">400.0</div><div class="yl" style="top:287px">600.0</div><div class="yl" style="top:258px">800.0</div><div class="yl" style="top:229px">1,000.0</div><div class="yl" style="top:200px">1,200.0</div><div class="yl" style="top:141px">1,600.0</div><div class="yl" style="top:112px">1,800.0</div><div class="yl" style="top:83px">2,000.0</div><div class="yl" style="top:54px">2,200.0</div><div class="yl" style="top:25px">2,400.0</div>
<div class="xl" style="left:-5px">1989</div><div class="xl" style="left:44px">1991</div><div class="xl" style="left:94px">1993</div><div class="xl" style="left:143px">1995</div><div class="xl" style="left:192px">1997</div><div class="xl" style="left:242px">1999</div><div class="xl" style="left:291px">2001</div><div class="xl" style="left:340px">2003</div><div class="xl" style="left:389px">2005</div><div class="xl" style="left:439px">2007</div><div class="xl" style="left:488px">2009</div><div class="xl" style="left:537px">2011</div><div class="xl" style="left:586px">2013</div>
<div id="last">1,445.0</div>
</div>
</body></html>
